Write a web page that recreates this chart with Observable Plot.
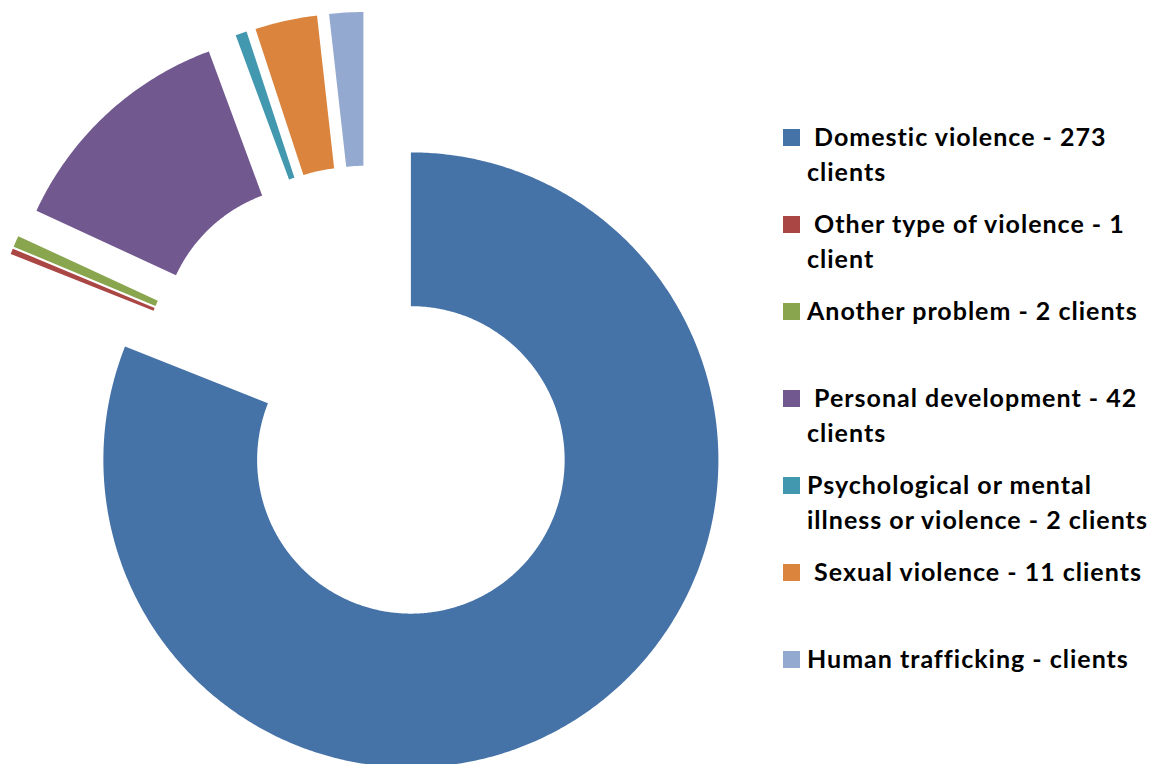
<!DOCTYPE html>
<html>
<head>
<meta charset="utf-8">
<script src="https://cdn.jsdelivr.net/npm/d3@7"></script>
<script src="https://cdn.jsdelivr.net/npm/@observablehq/plot@0.6"></script>
<style>
  html, body { margin: 0; padding: 0; background: #fff; }
  #wrap { position: relative; width: 1156px; height: 764px; overflow: hidden; }
  #chart { position: absolute; left: 0; top: 0; }
  #legend { position: absolute; left: 783px; top: 119px; font-family: Lato, "Open Sans", sans-serif; font-weight: 700; font-size: 25px; letter-spacing: 1px; line-height: 35px; color: #000; }
  .entry { position: relative; height: 87px; }
  .sw { position: absolute; left: 0; top: 10px; width: 17px; height: 17px; }
  .lbl { position: absolute; left: 24px; top: 0; white-space: pre; }
</style>
</head>
<body>
<div id="wrap">
  <div id="chart"></div>
  <div id="legend"></div>
</div>
<script>
const categories = ["Domestic violence", "Other type of violence", "Another problem", "Personal development", "Psychological or mental illness or violence", "Sexual violence", "Human trafficking"];
const values = [273, 1, 2, 42, 2, 11, 6];
const colors = ["#4572A7", "#AA4643", "#89A54E", "#71588F", "#4198AF", "#DB843D", "#93A9CF"];
const legendLabels = [
  " Domestic violence - 273\nclients",
  " Other type of violence - 1\nclient",
  "Another problem - 2 clients",
  " Personal development - 42\nclients",
  "Psychological or mental\nillness or violence - 2 clients",
  " Sexual violence - 11 clients",
  "Human trafficking - clients"
];

const holeRatio = 0.5;
const explode = 0.25;

const arcs = d3.pie().sort(null).value(d => d)(values);
const pts = [];
arcs.forEach((p, i) => {
  const mid = (p.startAngle + p.endAngle) / 2;
  const ox = explode * Math.sin(mid), oy = explode * Math.cos(mid);
  const n = Math.max(2, Math.ceil((p.endAngle - p.startAngle) / (Math.PI / 360)));
  for (let k = 0; k <= n; k++) {
    const a = p.startAngle + (p.endAngle - p.startAngle) * k / n;
    pts.push({cat: categories[i], x: ox + Math.sin(a), y: oy + Math.cos(a)});
  }
  for (let k = n; k >= 0; k--) {
    const a = p.startAngle + (p.endAngle - p.startAngle) * k / n;
    pts.push({cat: categories[i], x: ox + holeRatio * Math.sin(a), y: oy + holeRatio * Math.cos(a)});
  }
});

const chart = Plot.plot({
  width: 770,
  height: 764,
  margin: 0,
  x: {domain: [-1.1941, 1.3099], axis: null},
  y: {domain: [-1.1974, 1.2872], axis: null},
  color: {domain: categories, range: colors},
  marks: [
    Plot.line(pts, {x: "x", y: "y", z: "cat", fill: "cat", stroke: "none", curve: "linear"})
  ]
});
document.getElementById("chart").appendChild(chart);

const legend = document.getElementById("legend");
categories.forEach((c, i) => {
  const e = document.createElement("div");
  e.className = "entry";
  const s = document.createElement("div");
  s.className = "sw";
  s.style.background = colors[i];
  const t = document.createElement("div");
  t.className = "lbl";
  t.textContent = legendLabels[i];
  e.appendChild(s);
  e.appendChild(t);
  legend.appendChild(e);
});
</script>
</body>
</html>
